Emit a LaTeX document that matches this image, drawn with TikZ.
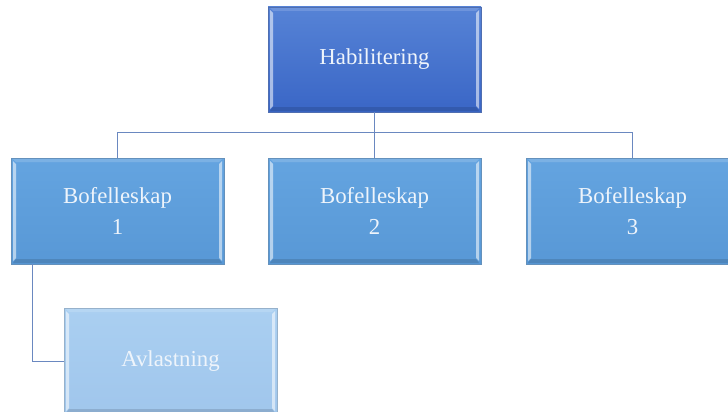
\documentclass[tikz,border=0pt]{standalone}
\usepackage{fontspec}
\setmainfont{Liberation Serif}
\definecolor{topA}{HTML}{5683D6}
\definecolor{topB}{HTML}{3A66C6}
\definecolor{midA}{HTML}{64A4E0}
\definecolor{midB}{HTML}{5898D6}
\definecolor{avA}{HTML}{AACFF1}
\definecolor{avB}{HTML}{A0C6EC}
\definecolor{conn}{HTML}{6A88C0}
\definecolor{txt}{HTML}{EEF4FB}
\tikzset{
  bevelbox/.style={rectangle, minimum width=213pt, minimum height=106pt, inner sep=0pt,
    draw=#1!70!gray, line width=0.6pt, text=txt, align=center,
    font=\fontsize{22.8}{31}\selectfont,
    path picture={
      \fill[white,opacity=0.55] ([shift={(2pt,3pt)}]path picture bounding box.south west) -- ([shift={(5pt,6pt)}]path picture bounding box.south west) -- ([shift={(5pt,-6pt)}]path picture bounding box.north west) -- ([shift={(2pt,-3pt)}]path picture bounding box.north west) -- cycle;
      \fill[white,opacity=0.55] ([shift={(-2pt,3pt)}]path picture bounding box.south east) -- ([shift={(-5pt,6pt)}]path picture bounding box.south east) -- ([shift={(-5pt,-6pt)}]path picture bounding box.north east) -- ([shift={(-2pt,-3pt)}]path picture bounding box.north east) -- cycle;
      \fill[black,opacity=0.12] ([shift={(2pt,1pt)}]path picture bounding box.south west) -- ([shift={(5pt,5pt)}]path picture bounding box.south west) -- ([shift={(-5pt,5pt)}]path picture bounding box.south east) -- ([shift={(-2pt,1pt)}]path picture bounding box.south east) -- cycle;
      \fill[white,opacity=0.15] ([shift={(2pt,-1pt)}]path picture bounding box.north west) -- ([shift={(5pt,-4pt)}]path picture bounding box.north west) -- ([shift={(-5pt,-4pt)}]path picture bounding box.north east) -- ([shift={(-2pt,-1pt)}]path picture bounding box.north east) -- cycle;
    }},
  topbox/.style={bevelbox=topB, top color=topA, bottom color=topB},
  midbox/.style={bevelbox=midB, top color=midA, bottom color=midB},
  avbox/.style={bevelbox=avB, top color=avA, bottom color=avB},
  connector/.style={draw=conn, line width=1pt}
}
\begin{document}
\begin{tikzpicture}[x=1pt,y=-1pt]
\useasboundingbox (0,0) rectangle (728,412);
\clip (0,0) rectangle (728,412);
\fill[white] (0,0) rectangle (728,412);
\node[topbox, minimum height=105pt] (top) at (374.5,59.5) {Habilitering};
\node[midbox] (b1) at (117.5,211) {Bofelleskap\\1};
\node[midbox] (b2) at (374.5,211) {Bofelleskap\\2};
\node[midbox] (b3) at (632.5,211) {Bofelleskap\\3};
\node[avbox] (av) at (170.5,361) {Avlastning};
\coordinate (bus) at (374.5,132);
\coordinate (elbow) at (32,361);
\draw[connector] (top.south) -- (bus);
\draw[connector] (bus) -| (b1.north);
\draw[connector] (bus) -| (b3.north);
\draw[connector] (bus) -- (b2.north);
\draw[connector] (b1.south -| elbow) -- (elbow) -- (av.west);
\end{tikzpicture}
\end{document}
